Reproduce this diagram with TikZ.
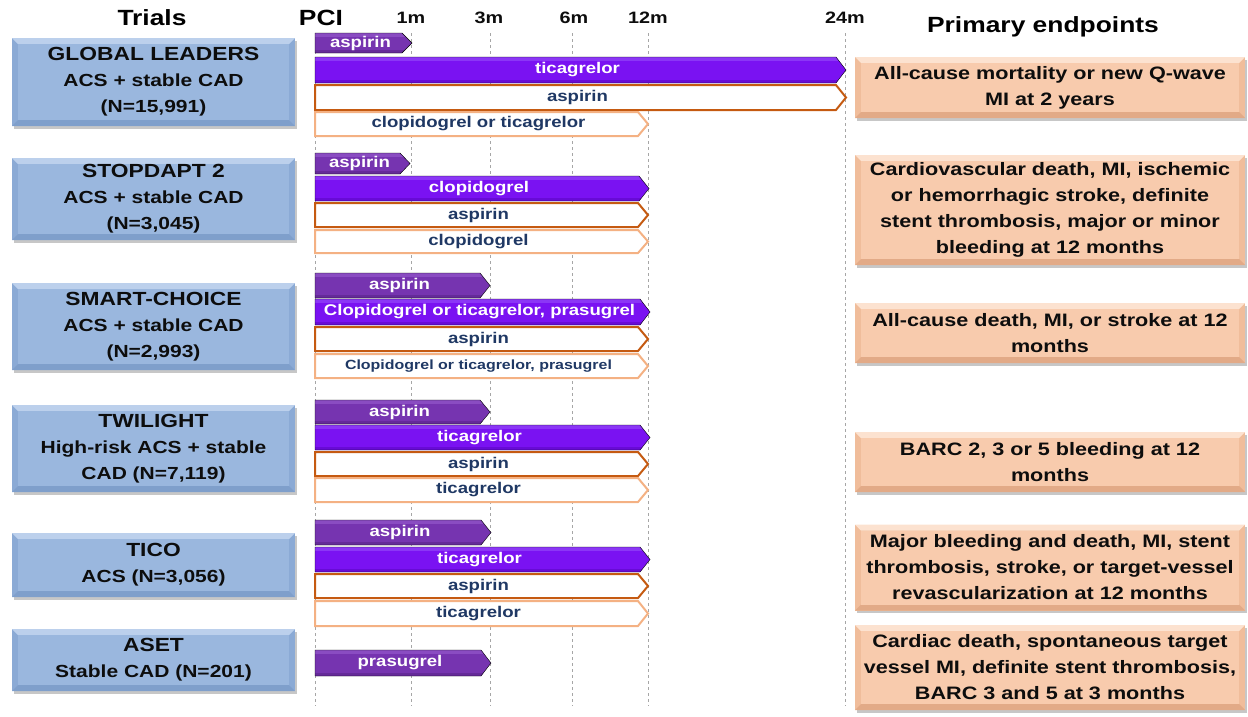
\documentclass[tikz,border=0pt]{standalone}
\usepackage{fontspec}
\setmainfont{Liberation Sans}[FakeStretch=1.2]
\usetikzlibrary{shadows}

\definecolor{trialfill}{HTML}{9AB7DE}
\definecolor{trialtop}{HTML}{BCD0EC}
\definecolor{trialside}{HTML}{8BAAD5}
\definecolor{trialbottom}{HTML}{7F9FCB}
\definecolor{endfill}{HTML}{F8CBAD}
\definecolor{endtop}{HTML}{FCE2D0}
\definecolor{endside}{HTML}{F0BD9B}
\definecolor{endbottom}{HTML}{E2AA87}
\definecolor{aspfill}{HTML}{7634B0}
\definecolor{asplight}{HTML}{8A4CC2}
\definecolor{aspdark}{HTML}{652A99}
\definecolor{p2yfill}{HTML}{7A12F2}
\definecolor{p2ylight}{HTML}{8B36F6}
\definecolor{p2ydark}{HTML}{680BD6}
\definecolor{strongline}{HTML}{C55A11}
\definecolor{softline}{HTML}{F4B183}
\definecolor{navytext}{HTML}{1F3864}
\definecolor{inktext}{HTML}{0D0D0D}

% bar from PCI to tip: style, label style, top, bottom, tip x, name, text
\newcommand{\drugbar}[7]{%
  \draw[#1] (315,#3) -- ({#5-10},#3) -- (#5,{(#3+#4)/2}) -- ({#5-10},#4) -- (315,#4) -- cycle;
  \node[#2] (#6) at ({(315+#5-6)/2},{(#3+#4)/2}) {#7};}

\tikzset{
  gridline/.style={gray!70, dash pattern=on 3pt off 3pt, line width=0.6pt},
  heading/.style={font=\fontsize{22}{24}\selectfont\bfseries, text=black},
  month/.style={font=\fontsize{16.5}{20}\selectfont\bfseries, text=inktext},
  bevel/.style n args={4}{path picture={
      \fill[#2] (path picture bounding box.north west) -- (path picture bounding box.north east)
        -- ([xshift=-6pt,yshift=-6pt]path picture bounding box.north east)
        -- ([xshift=6pt,yshift=-6pt]path picture bounding box.north west) -- cycle;
      \fill[#3] (path picture bounding box.south west) -- (path picture bounding box.south east)
        -- ([xshift=-6pt,yshift=6pt]path picture bounding box.south east)
        -- ([xshift=6pt,yshift=6pt]path picture bounding box.south west) -- cycle;
      \fill[#1] ([xshift=6pt,yshift=-6pt]path picture bounding box.north west) rectangle ([xshift=-6pt,yshift=6pt]path picture bounding box.south east);
    }, fill=#4},
  trial/.style={minimum width=283pt, minimum height=#1, align=center,
    inner sep=0pt, text=inktext, bevel={trialfill}{trialtop}{trialbottom}{trialside},
    drop shadow={shadow xshift=2pt, shadow yshift=-2.5pt, fill=black, opacity=.22},
    font=\fontsize{17.5}{26}\selectfont\bfseries},
  endpoint/.style={minimum width=390pt, minimum height=#1, align=center,
    inner sep=0pt, text=inktext, bevel={endfill}{endtop}{endbottom}{endside},
    drop shadow={shadow xshift=2pt, shadow yshift=-2.5pt, fill=black, opacity=.22},
    font=\fontsize{18}{26}\selectfont\bfseries},
  aspbar/.style={fill=aspfill, path picture={
      \fill[asplight] (path picture bounding box.north west) rectangle ([yshift=-4pt]path picture bounding box.north east);
      \fill[aspdark] (path picture bounding box.south west) rectangle ([yshift=3pt]path picture bounding box.south east);}},
  p2ybar/.style={fill=p2yfill, path picture={
      \fill[p2ylight] (path picture bounding box.north west) rectangle ([yshift=-4pt]path picture bounding box.north east);
      \fill[p2ydark] (path picture bounding box.south west) rectangle ([yshift=3pt]path picture bounding box.south east);}},
  strongbar/.style={fill=white, draw=strongline, line width=2pt},
  softbar/.style={fill=white, draw=softline, line width=2pt},
  filllabel/.style={text=white, font=\fontsize{15.5}{18}\selectfont\bfseries},
  openlabel/.style={text=navytext, font=\fontsize{15.5}{18}\selectfont\bfseries},
  smalllabel/.style={text=navytext, font=\fontsize{13.3}{16}\selectfont\bfseries}
}

\begin{document}
\begin{tikzpicture}[x=1pt,y=-1pt]
\useasboundingbox (0,0) rectangle (1248,716);

% time axis
\foreach \x in {315,411,490,572,648,845}
  \draw[gridline] (\x,33) -- (\x,706);
\node[heading] (trials) at (152,18) {Trials};
\node[heading] (pci) at (321,18) {PCI};
\node[month] (m1) at (411,18) {1m};
\node[month] (m3) at (489,18) {3m};
\node[month] (m6) at (574,18) {6m};
\node[month] (m12) at (648,18) {12m};
\node[month] (m24) at (845,18) {24m};
\node[heading] (primary) at (1043,27) {Primary endpoints};

% trials
\node[trial=88pt] (gl) at (153.5,82) {{\fontsize{19}{26}\selectfont GLOBAL LEADERS}\\ACS + stable CAD\\(N=15,991)};
\node[trial=82pt] (sd) at (153.5,199) {{\fontsize{19}{26}\selectfont STOPDAPT 2}\\ACS + stable CAD\\(N=3,045)};
\node[trial=87pt] (sc) at (153.5,326.5) {{\fontsize{19}{26}\selectfont SMART-CHOICE}\\ACS + stable CAD\\(N=2,993)};
\node[trial=87pt] (tw) at (153.5,448.5) {{\fontsize{19}{26}\selectfont TWILIGHT}\\High-risk ACS + stable\\CAD (N=7,119)};
\node[trial=64pt] (tc) at (153.5,565) {{\fontsize{19}{26}\selectfont TICO}\\ACS (N=3,056)};
\node[trial=62pt] (as) at (153.5,660) {{\fontsize{19}{26}\selectfont ASET}\\Stable CAD (N=201)};

% regimens
\drugbar{aspbar}{filllabel}{33}{53}{412}{gla}{aspirin}
\drugbar{p2ybar}{filllabel}{57}{83}{846}{glb}{ticagrelor}
\drugbar{strongbar}{openlabel}{85}{110}{846}{glc}{aspirin}
\drugbar{softbar}{openlabel}{112}{136}{648}{gld}{clopidogrel or ticagrelor}

\drugbar{aspbar}{filllabel}{153}{174}{410}{sda}{aspirin}
\drugbar{p2ybar}{filllabel}{176}{201}{649}{sdb}{clopidogrel}
\drugbar{strongbar}{openlabel}{203}{227}{648}{sdc}{aspirin}
\drugbar{softbar}{openlabel}{230}{253}{648}{sdd}{clopidogrel}

\drugbar{aspbar}{filllabel}{273}{298}{490}{sca}{aspirin}
\drugbar{p2ybar}{filllabel}{299}{325}{650}{scb}{Clopidogrel or ticagrelor, prasugrel}
\drugbar{strongbar}{openlabel}{327}{351}{648}{scc}{aspirin}
\drugbar{softbar}{smalllabel}{354}{378}{648}{scd}{Clopidogrel or ticagrelor, prasugrel}

\drugbar{aspbar}{filllabel}{400}{424}{490}{twa}{aspirin}
\drugbar{p2ybar}{filllabel}{425}{450}{650}{twb}{ticagrelor}
\drugbar{strongbar}{openlabel}{452}{476}{648}{twc}{aspirin}
\drugbar{softbar}{openlabel}{478}{502}{648}{twd}{ticagrelor}

\drugbar{aspbar}{filllabel}{520}{545}{491}{tca}{aspirin}
\drugbar{p2ybar}{filllabel}{547}{572}{650}{tcb}{ticagrelor}
\drugbar{strongbar}{openlabel}{574}{598}{648}{tcc}{aspirin}
\drugbar{softbar}{openlabel}{601}{626}{648}{tcd}{ticagrelor}

\drugbar{aspbar}{filllabel}{650}{676}{491}{asa}{prasugrel}

% endpoints
\node[endpoint=61pt] (ep1) at (1050,87.5) {All-cause mortality or new Q-wave\\MI at 2 years};
\node[endpoint=110pt] (ep2) at (1050,210) {Cardiovascular death, MI, ischemic\\or hemorrhagic stroke, definite\\stent thrombosis, major or minor\\bleeding at 12 months};
\node[endpoint=60pt] (ep3) at (1050,333) {All-cause death, MI, or stroke at 12\\months};
\node[endpoint=60pt] (ep4) at (1050,462) {BARC 2, 3 or 5 bleeding at 12\\months};
\node[endpoint=86pt] (ep5) at (1050,567.5) {Major bleeding and death, MI, stent\\thrombosis, stroke, or target-vessel\\revascularization at 12 months};
\node[endpoint=85pt] (ep6) at (1050,667.5) {Cardiac death, spontaneous target\\vessel MI, definite stent thrombosis,\\BARC 3 and 5 at 3 months};
\end{tikzpicture}
\end{document}
